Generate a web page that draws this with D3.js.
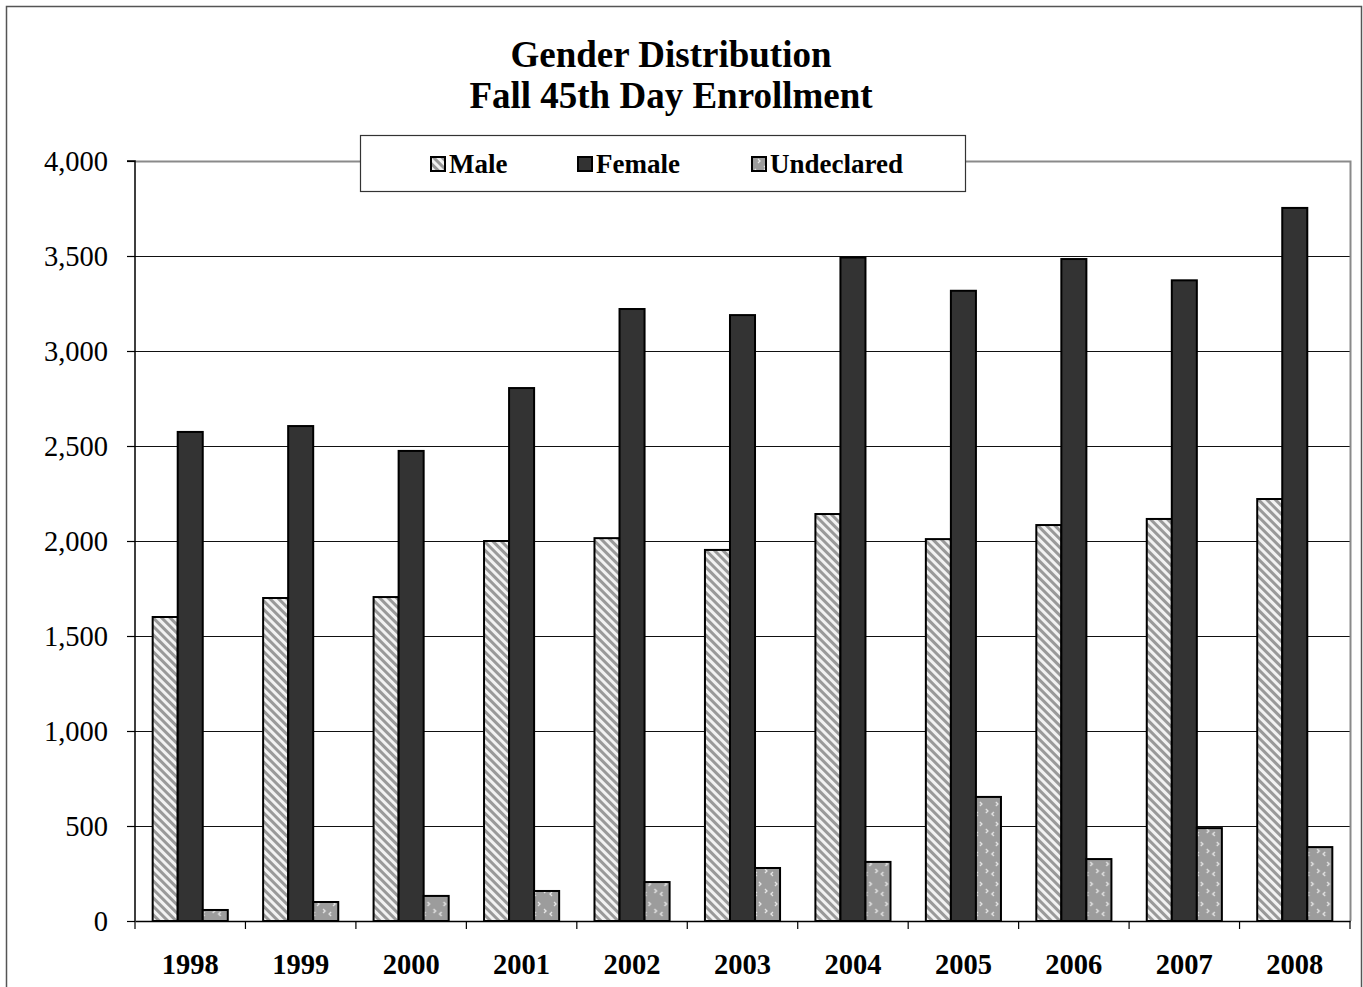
<!DOCTYPE html>
<html>
<head>
<meta charset="utf-8">
<script src="https://cdn.jsdelivr.net/npm/d3@7"></script>
<style>
  html, body { margin: 0; padding: 0; background: #fff; }
  svg { display: block; }
</style>
</head>
<body>
<svg id="chart" width="1363" height="987"></svg>
<script>
const years = ["1998","1999","2000","2001","2002","2003","2004","2005","2006","2007","2008"];
const seriesNames = ["Male","Female","Undeclared"];
const male       = [1600, 1700, 1705, 2000, 2015, 1953, 2142, 2010, 2084, 2116, 2221];
const female     = [2574, 2605, 2474, 2805, 3221, 3189, 3492, 3317, 3484, 3372, 3753];
const undeclared = [58, 100, 132, 158, 205, 279, 311, 653, 326, 489, 389];
const yTicks = [0, 500, 1000, 1500, 2000, 2500, 3000, 3500, 4000];
const titleLines = ["Gender Distribution", "Fall 45th Day Enrollment"];

const seriesValues = [male, female, undeclared];
const fills = ["url(#hatchMale)", "#333333", "url(#dotsUndecl)"];

const svg = d3.select("#chart");
const font = "'Liberation Serif', 'Times New Roman', serif";

// patterns
const defs = svg.append("defs");
const pm = defs.append("pattern").attr("id","hatchMale").attr("patternUnits","userSpaceOnUse")
  .attr("width",6).attr("height",6).attr("patternTransform","rotate(-45)");
pm.append("rect").attr("width",6).attr("height",6).attr("fill","#f2f2f2");
pm.append("rect").attr("x",0).attr("width",3).attr("height",6).attr("fill","#999999");

const pu = defs.append("pattern").attr("id","dotsUndecl").attr("patternUnits","userSpaceOnUse")
  .attr("width",16).attr("height",20);
pu.append("rect").attr("width",16).attr("height",20).attr("fill","#9c9c9c");
pu.append("path").attr("d","M6,2 L8,4 L6,6").attr("fill","none").attr("stroke","#e8e8e8").attr("stroke-width",1.3);
pu.append("path").attr("d","M4,12 L2,14 L4,16").attr("fill","none").attr("stroke","#e8e8e8").attr("stroke-width",1.3);
pu.append("path").attr("d","M12,9 L14,11 L12,13").attr("fill","none").attr("stroke","#e8e8e8").attr("stroke-width",1.3);

// outer border
svg.append("rect").attr("x",6.5).attr("y",6.5).attr("width",1355).attr("height",990)
  .attr("fill","none").attr("stroke","#555").attr("stroke-width",1.5);

const pLeft = 135, pRight = 1350, pTop = 161, pBottom = 921;

const y = d3.scaleLinear().domain([0, 4000]).range([pBottom, pTop]);
const x0 = d3.scaleBand().domain(years).range([pLeft, pRight]).paddingInner(0.32).paddingOuter(0.16);
const x1 = d3.scaleBand().domain(seriesNames).range([0, x0.bandwidth()]);

// gridlines
svg.append("g").selectAll("line").data(yTicks.filter(d => d > 0 && d < 4000)).join("line")
  .attr("x1", pLeft).attr("x2", pRight)
  .attr("y1", d => Math.round(y(d)) + 0.5).attr("y2", d => Math.round(y(d)) + 0.5)
  .attr("stroke", "#111").attr("stroke-width", 1);

// plot area top & right border (grey)
svg.append("path")
  .attr("d", `M${pLeft},${pTop+0.5} H${pRight+0.5} V${pBottom}`)
  .attr("fill","none").attr("stroke","#8a8a8a").attr("stroke-width",2);

// bars
const groups = svg.append("g").selectAll("g").data(years).join("g")
  .attr("transform", d => `translate(${x0(d)},0)`);
groups.selectAll("rect").data((d, i) => seriesNames.map((s, j) => ({s, j, v: seriesValues[j][i]}))).join("rect")
  .attr("x", d => x1(d.s))
  .attr("y", d => y(d.v))
  .attr("width", x1.bandwidth())
  .attr("height", d => pBottom - y(d.v))
  .attr("fill", d => fills[d.j])
  .attr("stroke", "#000").attr("stroke-width", 2);

// y axis
const yAxis = d3.axisLeft(y).tickValues(yTicks).tickSize(8).tickPadding(19)
  .tickFormat(d3.format(","));
const gy = svg.append("g").attr("transform", `translate(${pLeft},0)`).call(yAxis);
gy.select(".domain").attr("stroke","#000").attr("stroke-width",1.5).attr("d", `M-8,${pTop}H0V${pBottom}`);
gy.selectAll(".tick line").attr("stroke","#000").attr("stroke-width",1.2);
gy.selectAll("text").attr("font-family", font).attr("font-size", 28.5).attr("fill","#000");

// x axis
const xAxis = d3.axisBottom(x0).tickSize(0).tickPadding(33);
const gx = svg.append("g").attr("transform", `translate(0,${pBottom})`).call(xAxis);
gx.select(".domain").attr("stroke","#000").attr("stroke-width",1.5);
gx.selectAll("text").attr("font-family", font).attr("font-size", 28.5).attr("font-weight","bold").attr("fill","#000");
// category boundary ticks
const boundaries = d3.range(years.length + 1).map(i => pLeft + i * x0.step());
svg.append("g").selectAll("line").data(boundaries).join("line")
  .attr("x1", d => d).attr("x2", d => d).attr("y1", pBottom).attr("y2", pBottom + 8)
  .attr("stroke", "#000").attr("stroke-width", 1.2);

// title
svg.append("g").selectAll("text").data(titleLines).join("text")
  .attr("x", 671).attr("y", (d, i) => 67 + i * 41)
  .attr("text-anchor","middle").attr("font-family", font).attr("font-size", 37).attr("font-weight","bold")
  .text(d => d);

// legend
svg.append("rect").attr("x",360.5).attr("y",135.5).attr("width",605).attr("height",56)
  .attr("fill","#fff").attr("stroke","#333").attr("stroke-width",1.2);
const legendX = [431, 578, 752];
const lg = svg.append("g").selectAll("g").data(seriesNames).join("g")
  .attr("transform", (d, i) => `translate(${legendX[i]},157)`);
lg.append("rect").attr("width",14).attr("height",14).attr("fill",(d,i)=>fills[i])
  .attr("stroke","#000").attr("stroke-width",2);
lg.append("text").attr("x",18).attr("y",16).attr("font-family",font).attr("font-size",27)
  .attr("font-weight","bold").text(d => d);
</script>
</body>
</html>
